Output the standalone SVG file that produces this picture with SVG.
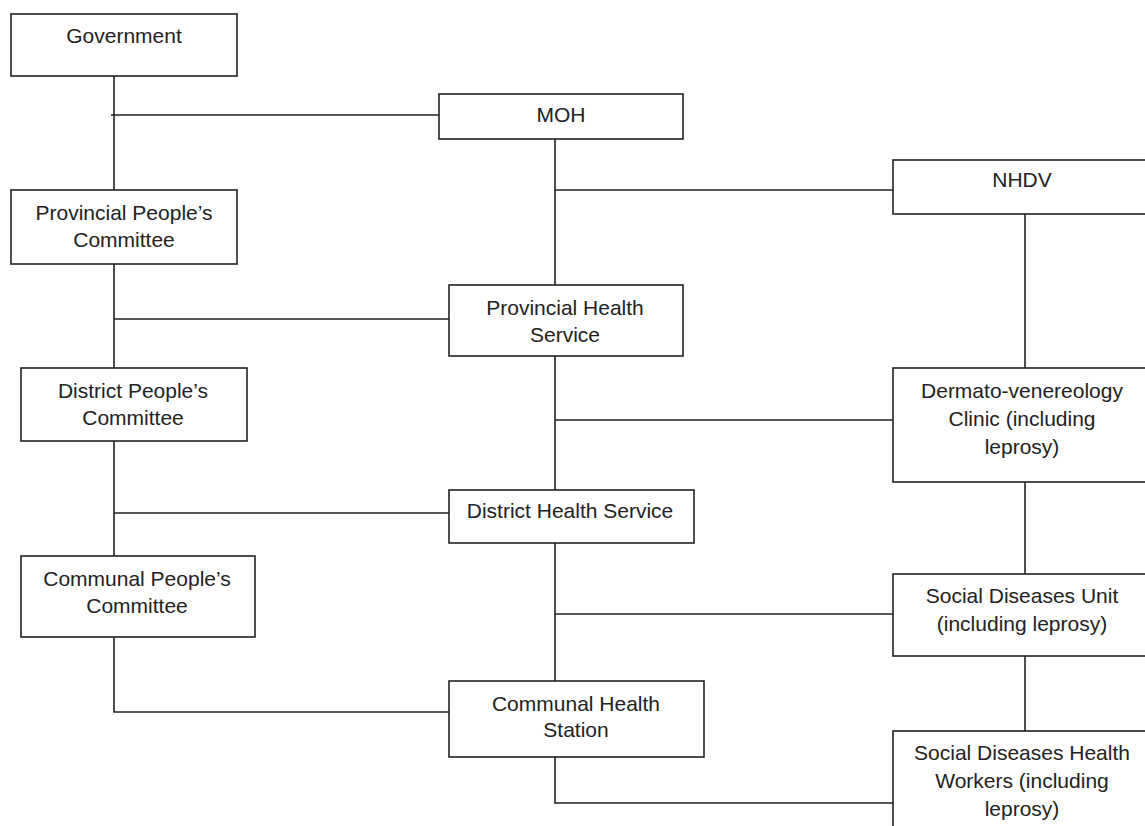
<svg xmlns="http://www.w3.org/2000/svg" width="1145" height="826" viewBox="0 0 1145 826">
<style>
.box{fill:#fff;stroke:#222;stroke-width:1.6}
.ln{fill:none;stroke:#222;stroke-width:1.6}
text{font-family:"Liberation Sans",Arial,sans-serif;font-size:21px;fill:#222;text-anchor:middle}
</style>
<rect width="1145" height="826" fill="#fff"/>
<g id="connectors">
<path class="ln" d="M114 76V190M111 115H439"/>
<path class="ln" d="M555 139V285M555 190H893"/>
<path class="ln" d="M114 264V368M114 319H449"/>
<path class="ln" d="M1025 214V368"/>
<path class="ln" d="M555 356V490M555 420H893"/>
<path class="ln" d="M114 441V556M114 513H449"/>
<path class="ln" d="M1025 482V574"/>
<path class="ln" d="M555 543V681M555 614H893"/>
<path class="ln" d="M114 637V712H449"/>
<path class="ln" d="M1025 656V731"/>
<path class="ln" d="M555 757V803H893"/>
</g>
<g id="government"><rect class="box" x="11" y="14" width="226" height="62"/><text x="124" y="43">Government</text></g>
<g id="moh"><rect class="box" x="439" y="94" width="244" height="45"/><text x="561" y="122">MOH</text></g>
<g id="nhdv"><rect class="box" x="893" y="160" width="262" height="54"/><text x="1022" y="187">NHDV</text></g>
<g id="provincial-peoples-committee"><rect class="box" x="11" y="190" width="226" height="74"/><text x="124" y="220">Provincial People’s</text><text x="124" y="247">Committee</text></g>
<g id="provincial-health-service"><rect class="box" x="449" y="285" width="234" height="71"/><text x="565" y="315">Provincial Health</text><text x="565" y="342">Service</text></g>
<g id="dermato-clinic"><rect class="box" x="893" y="368" width="262" height="114"/><text x="1022" y="398">Dermato-venereology</text><text x="1022" y="426">Clinic (including</text><text x="1022" y="454">leprosy)</text></g>
<g id="district-peoples-committee"><rect class="box" x="21" y="368" width="226" height="73"/><text x="133" y="398">District People’s</text><text x="133" y="425">Committee</text></g>
<g id="district-health-service"><rect class="box" x="449" y="490" width="245" height="53"/><text x="570" y="518">District Health Service</text></g>
<g id="communal-peoples-committee"><rect class="box" x="21" y="556" width="234" height="81"/><text x="137" y="586">Communal People’s</text><text x="137" y="613">Committee</text></g>
<g id="social-diseases-unit"><rect class="box" x="893" y="574" width="262" height="82"/><text x="1022" y="603">Social Diseases Unit</text><text x="1022" y="631">(including leprosy)</text></g>
<g id="communal-health-station"><rect class="box" x="449" y="681" width="255" height="76"/><text x="576" y="711">Communal Health</text><text x="576" y="737">Station</text></g>
<g id="social-diseases-health-workers"><rect class="box" x="893" y="731" width="262" height="110"/><text x="1022" y="760">Social Diseases Health</text><text x="1022" y="788">Workers (including</text><text x="1022" y="816">leprosy)</text></g>
</svg>
